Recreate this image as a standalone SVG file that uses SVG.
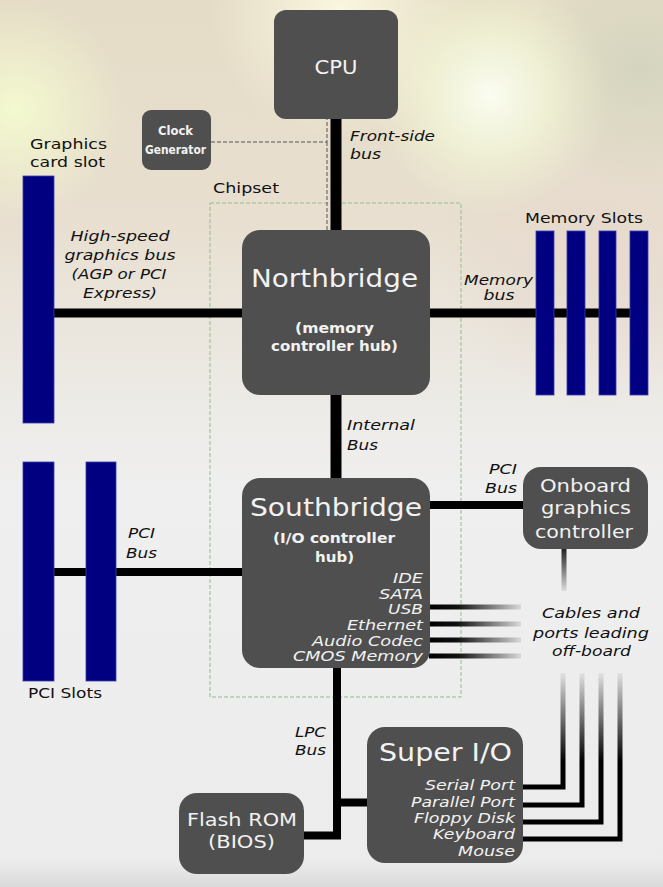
<svg xmlns="http://www.w3.org/2000/svg" width="663" height="887" viewBox="0 0 663 887">
<defs>
<linearGradient id="bg" x1="0" y1="0" x2="0" y2="1">
<stop offset="0" stop-color="#e4dcc6"/>
<stop offset="0.25" stop-color="#e8dfd0"/>
<stop offset="0.42" stop-color="#ece9e3"/>
<stop offset="0.55" stop-color="#efefef"/>
<stop offset="0.97" stop-color="#ececec"/>
<stop offset="1" stop-color="#dadada"/>
</linearGradient>
<radialGradient id="g1" cx="15" cy="110" r="110" gradientUnits="userSpaceOnUse">
<stop offset="0" stop-color="#f4f9cf" stop-opacity="1"/>
<stop offset="1" stop-color="#f4f9cf" stop-opacity="0"/>
</radialGradient>
<radialGradient id="g2" cx="490" cy="95" r="120" gradientUnits="userSpaceOnUse">
<stop offset="0" stop-color="#fbfdf2" stop-opacity="1"/>
<stop offset="0.5" stop-color="#f3f7d8" stop-opacity="0.7"/>
<stop offset="1" stop-color="#eef2cf" stop-opacity="0"/>
</radialGradient>
<radialGradient id="g3" cx="340" cy="10" r="130" gradientUnits="userSpaceOnUse">
<stop offset="0" stop-color="#fbf6df" stop-opacity="1"/>
<stop offset="1" stop-color="#fbf6df" stop-opacity="0"/>
</radialGradient>
<radialGradient id="g4" cx="640" cy="70" r="120" gradientUnits="userSpaceOnUse">
<stop offset="0" stop-color="#d3d4bd" stop-opacity="0.9"/>
<stop offset="1" stop-color="#d3d4bd" stop-opacity="0"/>
</radialGradient>
<radialGradient id="g5" cx="590" cy="260" r="150" gradientUnits="userSpaceOnUse">
<stop offset="0" stop-color="#e6d8cc" stop-opacity="0.9"/>
<stop offset="1" stop-color="#e6d8cc" stop-opacity="0"/>
</radialGradient>
<linearGradient id="hfade" x1="430" y1="0" x2="522" y2="0" gradientUnits="userSpaceOnUse">
<stop offset="0" stop-color="#000"/>
<stop offset="0.3" stop-color="#111"/>
<stop offset="1" stop-color="#dcdcdc"/>
</linearGradient>
<linearGradient id="vfade1" x1="0" y1="549" x2="0" y2="591" gradientUnits="userSpaceOnUse">
<stop offset="0" stop-color="#222"/>
<stop offset="1" stop-color="#dcdcdc"/>
</linearGradient>
<linearGradient id="vfade2" x1="0" y1="673" x2="0" y2="762" gradientUnits="userSpaceOnUse">
<stop offset="0" stop-color="#e2e2e2"/>
<stop offset="1" stop-color="#000"/>
</linearGradient>
<style>
.box{fill:#4f4f4f;}
.slot{fill:#000080;stroke:#3c3ca8;stroke-width:0.8;}
.bus{stroke:#000;fill:none;}
.bt{font-family:"DejaVu Sans","Verdana",sans-serif;fill:#f2f2f2;}
.bti{font-family:"DejaVu Sans","Verdana",sans-serif;fill:#f2f2f2;font-style:italic;font-size:14px;}
.lb{font-family:"DejaVu Sans","Verdana",sans-serif;fill:#111;font-size:14.5px;}
.it{font-family:"DejaVu Sans","Verdana",sans-serif;fill:#111;font-size:14px;font-style:italic;}
.cg{font-family:"DejaVu Sans Condensed","DejaVu Sans",sans-serif;font-stretch:condensed;font-weight:bold;fill:#f2f2f2;font-size:12px;}
.mid{text-anchor:middle;}
.end{text-anchor:end;}
</style>
</defs>

<g id="background">
<rect x="0" y="0" width="663" height="887" fill="url(#bg)"/>
<rect x="0" y="0" width="663" height="450" fill="url(#g5)"/>
<rect x="0" y="0" width="663" height="450" fill="url(#g4)"/>
<rect x="0" y="0" width="663" height="450" fill="url(#g3)"/>
<rect x="0" y="0" width="663" height="450" fill="url(#g2)"/>
<rect x="0" y="0" width="663" height="450" fill="url(#g1)"/>
</g>

<g id="chipset">
<rect x="210" y="203" width="251" height="494" fill="none" stroke="#8fbf8f" stroke-width="1" stroke-dasharray="4 2"/>
<text class="lb" x="213" y="193" textLength="66" lengthAdjust="spacingAndGlyphs">Chipset</text>
</g>

<g id="connectors">
<line class="bus" x1="336" y1="119" x2="336" y2="232" stroke-width="11"/>
<path d="M211,142 H327 V119 M327,142 V231" fill="none" stroke="#555" stroke-width="1" stroke-dasharray="4 2"/>
<line class="bus" x1="54" y1="313" x2="243" y2="313" stroke-width="9"/>
<line class="bus" x1="429" y1="313" x2="640" y2="313" stroke-width="9"/>
<line class="bus" x1="336" y1="394" x2="336" y2="480" stroke-width="11"/>
<line class="bus" x1="54" y1="572" x2="243" y2="572" stroke-width="8"/>
<line class="bus" x1="429" y1="505" x2="525" y2="505" stroke-width="8"/>
<path class="bus" d="M337,667 V835.5 H303" stroke-width="8"/>
<line class="bus" x1="337" y1="802.5" x2="369" y2="802.5" stroke-width="8"/>
<g stroke="url(#hfade)" stroke-width="5" fill="none">
<line x1="429" y1="607" x2="521" y2="607"/>
<line x1="429" y1="624" x2="521" y2="624"/>
<line x1="429" y1="640" x2="521" y2="640"/>
<line x1="429" y1="656" x2="521" y2="656"/>
</g>
<line x1="564" y1="548" x2="564" y2="591" stroke="url(#vfade1)" stroke-width="5"/>
<g stroke="url(#vfade2)" stroke-width="5" fill="none">
<path d="M522,787 H563 V673"/>
<path d="M522,805 H582 V673"/>
<path d="M522,822 H601 V673"/>
<path d="M522,839 H620 V673"/>
</g>
</g>

<g id="bus-labels">
<text class="it" x="350" y="141" textLength="85" lengthAdjust="spacingAndGlyphs">Front-side</text>
<text class="it" x="350" y="159" textLength="31" lengthAdjust="spacingAndGlyphs">bus</text>
<text class="it mid" x="120" y="241" textLength="99" lengthAdjust="spacingAndGlyphs">High-speed</text>
<text class="it mid" x="120" y="260" textLength="111" lengthAdjust="spacingAndGlyphs">graphics bus</text>
<text class="it mid" x="119" y="279" textLength="95" lengthAdjust="spacingAndGlyphs">(AGP or PCI</text>
<text class="it mid" x="120" y="298" textLength="74" lengthAdjust="spacingAndGlyphs">Express)</text>
<text class="it mid" x="498.5" y="285" textLength="69" lengthAdjust="spacingAndGlyphs">Memory</text>
<text class="it mid" x="499" y="300" textLength="31" lengthAdjust="spacingAndGlyphs">bus</text>
<text class="it" x="347" y="430" textLength="68" lengthAdjust="spacingAndGlyphs">Internal</text>
<text class="it" x="347" y="450" textLength="31" lengthAdjust="spacingAndGlyphs">Bus</text>
<text class="it end" x="517" y="474" textLength="28" lengthAdjust="spacingAndGlyphs">PCI</text>
<text class="it end" x="517" y="493" textLength="32" lengthAdjust="spacingAndGlyphs">Bus</text>
<text class="it" x="128" y="538" textLength="27" lengthAdjust="spacingAndGlyphs">PCI</text>
<text class="it" x="126" y="558" textLength="31" lengthAdjust="spacingAndGlyphs">Bus</text>
<text class="it mid" x="591" y="618" textLength="98" lengthAdjust="spacingAndGlyphs">Cables and</text>
<text class="it mid" x="591" y="638" textLength="116" lengthAdjust="spacingAndGlyphs">ports leading</text>
<text class="it mid" x="591.5" y="656" textLength="79" lengthAdjust="spacingAndGlyphs">off-board</text>
<text class="it" x="295" y="737" textLength="31" lengthAdjust="spacingAndGlyphs">LPC</text>
<text class="it" x="295" y="755" textLength="31" lengthAdjust="spacingAndGlyphs">Bus</text>
</g>

<g id="cpu">
<rect class="box" x="274" y="10" width="124" height="109" rx="12"/>
<text class="bt mid" x="336" y="74" font-size="19" textLength="43" lengthAdjust="spacingAndGlyphs">CPU</text>
</g>

<g id="clock-generator">
<rect class="box" x="142" y="110" width="69" height="60" rx="9"/>
<text class="cg mid" x="175.5" y="135" textLength="35" lengthAdjust="spacingAndGlyphs">Clock</text>
<text class="cg mid" x="175.5" y="154" textLength="61" lengthAdjust="spacingAndGlyphs">Generator</text>
</g>

<g id="graphics-card-slot">
<rect class="slot" x="23" y="176" width="31" height="247"/>
<text class="lb" x="30" y="149" textLength="77" lengthAdjust="spacingAndGlyphs">Graphics</text>
<text class="lb" x="30" y="167" textLength="75" lengthAdjust="spacingAndGlyphs">card slot</text>
</g>

<g id="memory-slots">
<rect class="slot" x="536" y="231" width="18" height="164"/>
<rect class="slot" x="567" y="231" width="18" height="164"/>
<rect class="slot" x="599" y="231" width="17" height="164"/>
<rect class="slot" x="630" y="231" width="18" height="164"/>
<text class="lb mid" x="584" y="223" textLength="118" lengthAdjust="spacingAndGlyphs">Memory Slots</text>
</g>

<g id="northbridge">
<rect class="box" x="242" y="230" width="188" height="165" rx="18"/>
<text class="bt mid" x="334.5" y="287" font-size="24" textLength="167" lengthAdjust="spacingAndGlyphs">Northbridge</text>
<text class="bt mid" x="334.5" y="333" font-size="14.5" font-weight="bold" textLength="79" lengthAdjust="spacingAndGlyphs">(memory</text>
<text class="bt mid" x="334.5" y="351" font-size="14.5" font-weight="bold" textLength="127" lengthAdjust="spacingAndGlyphs">controller hub)</text>
</g>

<g id="southbridge">
<rect class="box" x="242" y="478" width="188" height="190" rx="18"/>
<text class="bt mid" x="336" y="516" font-size="24" textLength="172" lengthAdjust="spacingAndGlyphs">Southbridge</text>
<text class="bt mid" x="334" y="543" font-size="14.5" font-weight="bold" textLength="122" lengthAdjust="spacingAndGlyphs">(I/O controller</text>
<text class="bt mid" x="334.5" y="562" font-size="14.5" font-weight="bold" textLength="39" lengthAdjust="spacingAndGlyphs">hub)</text>
<text class="bti end" x="423" y="583" textLength="30" lengthAdjust="spacingAndGlyphs">IDE</text>
<text class="bti end" x="423" y="599" textLength="44" lengthAdjust="spacingAndGlyphs">SATA</text>
<text class="bti end" x="423" y="614" textLength="35" lengthAdjust="spacingAndGlyphs">USB</text>
<text class="bti end" x="423" y="630" textLength="76" lengthAdjust="spacingAndGlyphs">Ethernet</text>
<text class="bti end" x="423" y="646" textLength="111" lengthAdjust="spacingAndGlyphs">Audio Codec</text>
<text class="bti end" x="423" y="661" textLength="130" lengthAdjust="spacingAndGlyphs">CMOS Memory</text>
</g>

<g id="onboard-graphics">
<rect class="box" x="523" y="467" width="125" height="82" rx="18"/>
<text class="bt mid" x="585.5" y="492" font-size="18" textLength="91" lengthAdjust="spacingAndGlyphs">Onboard</text>
<text class="bt mid" x="586" y="514" font-size="18" textLength="90" lengthAdjust="spacingAndGlyphs">graphics</text>
<text class="bt mid" x="584" y="538" font-size="18" textLength="98" lengthAdjust="spacingAndGlyphs">controller</text>
</g>

<g id="pci-slots">
<rect class="slot" x="23" y="462" width="31" height="219"/>
<rect class="slot" x="86" y="462" width="30" height="219"/>
<text class="lb" x="28" y="698" textLength="74" lengthAdjust="spacingAndGlyphs">PCI Slots</text>
</g>

<g id="super-io">
<rect class="box" x="367" y="727" width="156" height="136" rx="18"/>
<text class="bt mid" x="445.5" y="761" font-size="24" textLength="133" lengthAdjust="spacingAndGlyphs">Super I/O</text>
<text class="bti end" x="515" y="790" textLength="90" lengthAdjust="spacingAndGlyphs">Serial Port</text>
<text class="bti end" x="515" y="807" textLength="104" lengthAdjust="spacingAndGlyphs">Parallel Port</text>
<text class="bti end" x="515" y="823" textLength="101" lengthAdjust="spacingAndGlyphs">Floppy Disk</text>
<text class="bti end" x="515" y="839" textLength="82" lengthAdjust="spacingAndGlyphs">Keyboard</text>
<text class="bti end" x="515" y="856" textLength="57" lengthAdjust="spacingAndGlyphs">Mouse</text>
</g>

<g id="flash-rom">
<rect class="box" x="179" y="793" width="125" height="81" rx="18"/>
<text class="bt mid" x="242" y="826" font-size="18" textLength="110" lengthAdjust="spacingAndGlyphs">Flash ROM</text>
<text class="bt mid" x="241.5" y="848" font-size="18" textLength="67" lengthAdjust="spacingAndGlyphs">(BIOS)</text>
</g>
</svg>
